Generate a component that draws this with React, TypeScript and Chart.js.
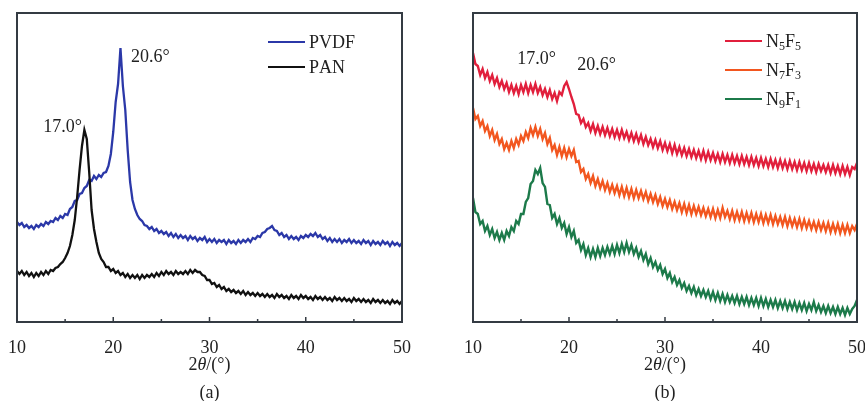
import { useEffect, useRef } from "react";
import { Chart, registerables } from "chart.js";

Chart.register(...registerables);

const SERIF = '"Liberation Serif", "Times New Roman", serif';

// 2θ sampling grid: 10°–50° in 0.25° steps (161 points)
const ANGLE_START = 10;
const ANGLE_STEP = 0.25;
const TWO_THETA = Array.from({ length: 161 }, (_, i) => ANGLE_START + i * ANGLE_STEP);

const X_TICKS = [10, 20, 30, 40, 50];

// Intensity (a.u.) — panel (a)
const PVDF = [
  100, 97, 99, 95, 97, 94, 96, 93, 97, 95, 98, 96, 100, 98, 101, 100, 104, 102, 106, 104,
  108, 107, 113, 115, 121, 122, 128, 129, 134, 136, 142, 141, 146, 143, 147, 145, 149, 150, 156, 168,
  190, 220, 238, 274, 236, 212, 172, 140, 122, 113, 107, 103, 101, 97, 96, 93, 95, 91, 93, 89,
  91, 88, 90, 86, 89, 85, 88, 84, 87, 84, 86, 82, 86, 83, 85, 81, 84, 82, 85, 80,
  83, 80, 83, 79, 82, 80, 82, 78, 82, 79, 81, 78, 82, 79, 82, 80, 83, 80, 84, 83,
  86, 85, 89, 90, 93, 94, 96, 92, 91, 87, 89, 85, 87, 83, 86, 83, 85, 82, 86, 84,
  87, 85, 88, 86, 89, 85, 87, 83, 85, 81, 84, 80, 83, 80, 83, 79, 82, 80, 83, 79,
  82, 79, 81, 78, 82, 79, 81, 77, 81, 78, 80, 77, 81, 78, 80, 76, 80, 77, 79, 76,
  79,
];

const PAN = [
  51, 48, 51, 47, 50, 46, 49, 45, 49, 46, 50, 47, 51, 48, 52, 51, 54, 55, 58, 60,
  64, 69, 76, 87, 102, 125, 152, 176, 192, 183, 150, 112, 93, 80, 69, 63, 60, 55, 55, 51,
  53, 49, 51, 47, 49, 45, 48, 44, 47, 44, 47, 43, 47, 44, 47, 45, 48, 45, 49, 46,
  50, 47, 51, 48, 50, 47, 51, 48, 50, 48, 51, 48, 52, 49, 52, 50, 50, 47, 46, 42,
  42, 38, 39, 35, 37, 33, 35, 31, 33, 30, 32, 29, 31, 28, 31, 27, 30, 27, 29, 26,
  29, 26, 28, 25, 28, 25, 27, 24, 28, 25, 27, 24, 26, 23, 27, 24, 26, 23, 27, 24,
  26, 23, 25, 22, 26, 23, 25, 22, 25, 22, 24, 21, 25, 22, 24, 21, 24, 21, 23, 20,
  24, 21, 23, 20, 23, 20, 22, 19, 23, 20, 22, 19, 22, 19, 21, 18, 22, 19, 21, 18,
  21,
];

// Intensity (a.u.) — panel (b)
const N5F5 = [
  269, 258, 256, 247, 253, 244, 250, 241, 247, 238, 244, 235, 241, 233, 239, 230, 237, 229, 236, 228,
  237, 230, 238, 229, 237, 230, 238, 229, 235, 227, 233, 225, 232, 223, 229, 221, 230, 227, 236, 240,
  233, 225, 218, 208, 207, 199, 203, 195, 199, 191, 198, 189, 196, 188, 195, 187, 194, 186, 193, 185,
  192, 184, 192, 184, 190, 182, 189, 181, 188, 180, 187, 178, 185, 177, 183, 175, 182, 174, 181, 172,
  179, 171, 178, 169, 177, 168, 175, 167, 174, 166, 173, 165, 172, 164, 171, 163, 171, 162, 170, 162,
  169, 161, 168, 160, 168, 160, 167, 159, 167, 159, 166, 158, 166, 158, 165, 157, 165, 157, 164, 156,
  164, 156, 163, 155, 163, 155, 162, 154, 162, 154, 161, 153, 161, 153, 160, 152, 160, 152, 159, 151,
  159, 151, 158, 150, 158, 151, 157, 150, 157, 149, 157, 149, 156, 148, 156, 148, 155, 147, 155, 153,
  159,
];

const N7F3 = [
  214, 203, 206, 196, 201, 191, 196, 186, 192, 182, 188, 178, 183, 173, 179, 172, 181, 174, 183, 177,
  186, 181, 190, 184, 194, 187, 195, 186, 193, 183, 189, 178, 184, 172, 177, 167, 175, 166, 174, 165,
  173, 166, 172, 160, 161, 150, 153, 143, 148, 139, 146, 136, 143, 134, 141, 132, 139, 130, 137, 129,
  136, 127, 135, 126, 134, 125, 133, 124, 132, 124, 131, 123, 130, 121, 128, 120, 127, 118, 125, 116,
  123, 115, 122, 113, 120, 112, 119, 110, 118, 109, 117, 108, 116, 108, 115, 107, 114, 106, 113, 105,
  113, 104, 112, 104, 114, 105, 111, 103, 111, 102, 110, 102, 110, 101, 109, 101, 109, 100, 108, 100,
  108, 99, 107, 99, 107, 98, 106, 98, 105, 97, 105, 96, 104, 96, 103, 95, 103, 94, 102, 94,
  101, 93, 100, 92, 100, 92, 99, 91, 99, 90, 98, 90, 98, 89, 97, 89, 97, 89, 96, 92,
  98,
];

const N9F1 = [
  124, 110, 108, 98, 101, 91, 96, 87, 93, 84, 90, 82, 89, 82, 91, 86, 95, 91, 101, 98,
  108, 108, 120, 124, 138, 141, 152, 148, 154, 139, 135, 118, 117, 104, 108, 98, 104, 94, 99, 88,
  95, 85, 91, 79, 82, 72, 78, 67, 74, 65, 73, 65, 74, 66, 74, 67, 75, 68, 76, 68,
  77, 69, 78, 70, 79, 70, 77, 68, 74, 65, 71, 62, 68, 58, 64, 55, 60, 52, 57, 48,
  53, 44, 49, 40, 45, 37, 42, 34, 39, 31, 36, 29, 35, 27, 33, 26, 32, 25, 31, 23,
  30, 22, 29, 21, 28, 20, 27, 20, 26, 19, 26, 18, 25, 18, 25, 17, 24, 17, 24, 16,
  24, 16, 23, 15, 22, 15, 22, 14, 21, 14, 21, 13, 20, 13, 20, 12, 19, 12, 19, 11,
  18, 12, 20, 11, 17, 10, 16, 9, 16, 9, 15, 8, 15, 8, 14, 7, 14, 8, 13, 16,
  22,
];

type Series = { label: string; color: string; values: number[]; order: number };
type Note = { text: string; x: number; y: number; align: CanvasTextAlign };

type PanelSpec = {
  caption: string;
  width: number;
  offset: number;
  padLeft: number;
  padRight: number;
  lineWidth: number;
  series: Series[];
  notes: Note[];
  legendX: number;
  legendRows: number[];
};

const PANEL_A: PanelSpec = {
  caption: "(a)",
  width: 440,
  offset: 0,
  padLeft: 17,
  padRight: 38,
  lineWidth: 2.3,
  series: [
    { label: "PVDF", color: "#2b38a8", values: PVDF, order: 1 },
    { label: "PAN", color: "#111111", values: PAN, order: 0 },
  ],
  notes: [
    { text: "20.6°", x: 21.85, y: 265, align: "left" },
    { text: "17.0°", x: 16.75, y: 195, align: "right" },
  ],
  legendX: 251,
  legendRows: [29, 54],
};

const PANEL_B: PanelSpec = {
  caption: "(b)",
  width: 425,
  offset: 440,
  padLeft: 33,
  padRight: 8,
  lineWidth: 2.4,
  series: [
    { label: "N5F5", color: "#e11f3c", values: N5F5, order: 0 },
    { label: "N7F3", color: "#f2561f", values: N7F3, order: 1 },
    { label: "N9F1", color: "#1c7a4a", values: N9F1, order: 2 },
  ],
  notes: [
    { text: "17.0°", x: 14.6, y: 263, align: "left" },
    { text: "20.6°", x: 20.85, y: 257, align: "left" },
  ],
  legendX: 252,
  legendRows: [28, 57, 86],
};

const FONT_SIZE = 18;
const INK = "#222222";

// Draws text where digits after letters become subscripts (e.g. N5F5 -> N₅F₅)
function drawChemLabel(ctx: CanvasRenderingContext2D, label: string, x: number, y: number) {
  let cx = x;
  for (const ch of label) {
    const isDigit = ch >= "0" && ch <= "9";
    ctx.font = `${isDigit ? 12 : FONT_SIZE}px ${SERIF}`;
    ctx.fillText(ch, cx, isDigit ? y + 5 : y);
    cx += ctx.measureText(ch).width;
  }
}

function makeFramePlugin(spec: PanelSpec) {
  return {
    id: "xrdFrame",
    afterDraw(chart: Chart) {
      const { ctx, chartArea } = chart;
      const { left, right, top, bottom } = chartArea;
      const xs = chart.scales.x;
      ctx.save();

      // plot frame
      ctx.strokeStyle = "#343b43";
      ctx.lineWidth = 2;
      ctx.strokeRect(left, top, right - left, bottom - top);

      // inward tick marks: majors every 10°, minors every 5°
      ctx.lineWidth = 1.5;
      for (let v = 10; v <= 50; v += 5) {
        const px = xs.getPixelForValue(v);
        const len = v % 10 === 0 ? 5 : 3;
        ctx.beginPath();
        ctx.moveTo(px, bottom);
        ctx.lineTo(px, bottom - len);
        ctx.stroke();
      }

      ctx.fillStyle = INK;
      ctx.textBaseline = "middle";

      // axis title 2θ/(°) with italic theta
      const cx = (left + right) / 2;
      const ty = bottom + 43;
      const parts: [string, string][] = [
        ["2", `${FONT_SIZE}px ${SERIF}`],
        ["θ", `italic ${FONT_SIZE}px ${SERIF}`],
        ["/(°)", `${FONT_SIZE}px ${SERIF}`],
      ];
      let total = 0;
      for (const [t, f] of parts) {
        ctx.font = f;
        total += ctx.measureText(t).width;
      }
      let tx = cx - total / 2;
      ctx.textAlign = "left";
      for (const [t, f] of parts) {
        ctx.font = f;
        ctx.fillText(t, tx, ty);
        tx += ctx.measureText(t).width;
      }

      // panel caption
      ctx.font = `${FONT_SIZE}px ${SERIF}`;
      ctx.textAlign = "center";
      ctx.fillText(spec.caption, cx, bottom + 71);

      // peak annotations
      const ys = chart.scales.y;
      for (const n of spec.notes) {
        ctx.textAlign = n.align;
        ctx.fillText(n.text, xs.getPixelForValue(n.x), ys.getPixelForValue(n.y));
      }

      // legend
      ctx.textAlign = "left";
      spec.series.forEach((s, i) => {
        const ly = top + spec.legendRows[i];
        const lx = left + spec.legendX;
        ctx.strokeStyle = s.color;
        ctx.lineWidth = 2;
        ctx.beginPath();
        ctx.moveTo(lx, ly);
        ctx.lineTo(lx + 37, ly);
        ctx.stroke();
        ctx.fillStyle = INK;
        drawChemLabel(ctx, s.label, lx + 41, ly + 1);
      });

      ctx.restore();
    },
  };
}

function XrdPanel({ spec }: { spec: PanelSpec }) {
  const ref = useRef<HTMLCanvasElement | null>(null);

  useEffect(() => {
    if (!ref.current) return;
    const chart = new Chart(ref.current, {
      type: "line",
      data: {
        labels: TWO_THETA,
        datasets: spec.series.map((s) => ({
          label: s.label,
          data: s.values.map((v, i) => ({ x: TWO_THETA[i], y: v })),
          borderColor: s.color,
          backgroundColor: s.color,
          borderWidth: spec.lineWidth,
          borderJoinStyle: "miter" as const,
          pointRadius: 0,
          tension: 0,
          order: s.order,
        })),
      },
      options: {
        responsive: false,
        animation: false,
        events: [],
        layout: { padding: { left: spec.padLeft, right: spec.padRight, top: 13, bottom: 0 } },
        plugins: { legend: { display: false }, tooltip: { enabled: false } },
        scales: {
          x: {
            type: "linear",
            min: 10,
            max: 50,
            grid: { display: false },
            border: { display: false },
            afterBuildTicks: (scale: any) => {
              scale.ticks = X_TICKS.map((v) => ({ value: v }));
            },
            afterFit: (scale: any) => {
              scale.height = 79;
              scale.paddingLeft = 0;
              scale.paddingRight = 0;
            },
            ticks: {
              padding: 7,
              color: INK,
              maxRotation: 0,
              autoSkip: false,
              font: { family: SERIF, size: FONT_SIZE },
            },
          },
          y: { display: false, min: 0, max: 309 },
        },
      },
      plugins: [makeFramePlugin(spec)],
    });
    return () => chart.destroy();
  }, [spec]);

  return (
    <canvas
      ref={ref}
      width={spec.width}
      height={401}
      style={{ position: "absolute", left: spec.offset, top: 0, width: spec.width, height: 401 }}
    />
  );
}

export default function App() {
  return (
    <div style={{ position: "fixed", left: 0, top: 0, width: 865, height: 401, background: "#fff", overflow: "hidden" }}>
      <XrdPanel spec={PANEL_A} />
      <XrdPanel spec={PANEL_B} />
    </div>
  );
}
